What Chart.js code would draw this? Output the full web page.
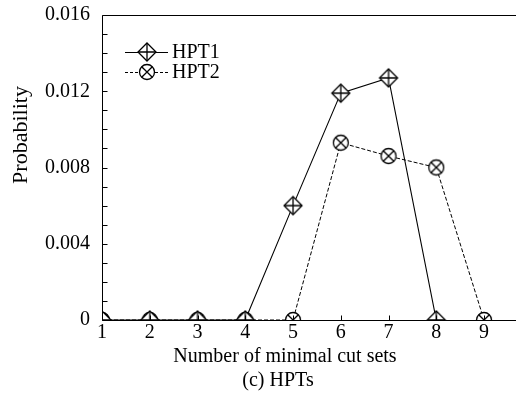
<!DOCTYPE html>
<html>
<head>
<meta charset="utf-8">
<script src="https://cdn.jsdelivr.net/npm/chart.js@4/dist/chart.umd.min.js"></script>
<style>
html,body{margin:0;padding:0;background:#fff;overflow:hidden;}
#wrap{width:518px;height:394px;position:relative;}
</style>
</head>
<body>
<div id="wrap"><canvas id="c"></canvas></div>
<script>
// ---- data ----
const categories = [1, 2, 3, 4, 5, 6, 7, 8, 9];
const hpt1 = [0, 0, 0, 0, 0.0060, 0.0119, 0.0127, 0, null];
const hpt2 = [0, 0, 0, 0, 0, 0.0093, 0.0086, 0.0080, 0];
const seriesNames = ['HPT1', 'HPT2'];
const yTickLabels = [0, 0.004, 0.008, 0.012, 0.016];
const xTickLabels = [1, 2, 3, 4, 5, 6, 7, 8, 9];
const xTitle = 'Number of minimal cut sets';
const caption = '(c) HPTs';
const yTitle = 'Probability';

const SERIF = '"Liberation Serif", "Times New Roman", serif';

function makeDiamond() {
  const c = document.createElement('canvas');
  c.width = 22; c.height = 22;
  const g = c.getContext('2d');
  const cx = 11, cy = 11, r = 9;
  g.lineWidth = 1.3; g.strokeStyle = '#000'; g.fillStyle = '#fff';
  g.beginPath();
  g.moveTo(cx, cy - r); g.lineTo(cx + r, cy); g.lineTo(cx, cy + r); g.lineTo(cx - r, cy); g.closePath();
  g.fill(); g.stroke();
  g.beginPath();
  g.moveTo(cx, cy - r); g.lineTo(cx, cy + r);
  g.moveTo(cx - r, cy); g.lineTo(cx + r, cy);
  g.stroke();
  return c;
}
function makeCircleX() {
  const c = document.createElement('canvas');
  c.width = 20; c.height = 20;
  const g = c.getContext('2d');
  const cx = 10, cy = 10, r = 7.5;
  g.lineWidth = 1.3; g.strokeStyle = '#000'; g.fillStyle = '#fff';
  g.beginPath(); g.arc(cx, cy, r, 0, Math.PI * 2); g.fill(); g.stroke();
  const d = r * Math.SQRT1_2;
  g.beginPath();
  g.moveTo(cx - d, cy - d); g.lineTo(cx + d, cy + d);
  g.moveTo(cx + d, cy - d); g.lineTo(cx - d, cy + d);
  g.stroke();
  return c;
}
const diamond = makeDiamond();
const circleX = makeCircleX();

const clipper = {
  id: 'clipper',
  beforeDatasetsDraw(chart) {
    const a = chart.chartArea, ctx = chart.ctx;
    ctx.save();
    ctx.beginPath();
    ctx.rect(a.left, a.top, a.right - a.left, a.bottom - a.top);
    ctx.clip();
  },
  afterDatasetsDraw(chart) { chart.ctx.restore(); }
};

const frame = {
  id: 'frame',
  afterDraw(chart) {
    const ctx = chart.ctx;
    const a = chart.chartArea;
    const xs = chart.scales.x, ys = chart.scales.y;
    ctx.save();
    ctx.strokeStyle = '#000';
    ctx.lineWidth = 1;
    const L = Math.round(a.left) + 0.5, T = Math.round(a.top) + 0.5, B = Math.round(a.bottom) + 0.5, R = chart.width;
    ctx.beginPath();
    ctx.moveTo(L, T); ctx.lineTo(R, T);
    ctx.moveTo(L, T); ctx.lineTo(L, B);
    ctx.moveTo(L, B); ctx.lineTo(R, B);
    for (let i = 0; i <= 16; i++) {
      const y = Math.round(ys.getPixelForValue(i * 0.001)) + 0.5;
      ctx.moveTo(L, y); ctx.lineTo(L + 5, y);
    }
    xTickLabels.forEach(v => {
      const x = Math.round(xs.getPixelForValue(v)) + 0.5;
      ctx.moveTo(x, B); ctx.lineTo(x, B - 5);
    });
    ctx.stroke();

    ctx.fillStyle = '#000';
    ctx.textAlign = 'center';
    ctx.textBaseline = 'middle';
    ctx.font = '20px ' + SERIF;
    ctx.fillText(xTitle, 285, 357);
    ctx.fillText(caption, 278, 381);
    ctx.save();
    ctx.translate(21, 135);
    ctx.rotate(-Math.PI / 2);
    ctx.font = '22px ' + SERIF;
    ctx.fillText(yTitle, 0, 0);
    ctx.restore();

    const rows = [
      { y: 52, dash: [], img: diamond, name: seriesNames[0] },
      { y: 72, dash: [3, 2], img: circleX, name: seriesNames[1] }
    ];
    ctx.font = '20px ' + SERIF;
    ctx.textAlign = 'left';
    rows.forEach(r => {
      ctx.setLineDash(r.dash);
      ctx.beginPath();
      ctx.moveTo(125, r.y + 0.5); ctx.lineTo(168, r.y + 0.5);
      ctx.stroke();
      ctx.setLineDash([]);
      ctx.drawImage(r.img, 147 - r.img.width / 2, r.y - r.img.height / 2);
      ctx.fillText(r.name, 172, r.y + 1);
    });
    ctx.restore();
  }
};

new Chart(document.getElementById('c'), {
  type: 'line',
  data: {
    datasets: [
      {
        label: seriesNames[0],
        data: categories.map((c, i) => ({ x: c, y: hpt1[i] })),
        borderColor: '#000', borderWidth: 1.1,
        pointStyle: diamond, pointRadius: 9, pointHoverRadius: 9,
        spanGaps: false, clip: false, tension: 0
      },
      {
        label: seriesNames[1],
        data: categories.map((c, i) => ({ x: c, y: hpt2[i] })),
        borderColor: '#000', borderWidth: 1, borderDash: [4, 2],
        pointStyle: circleX, pointRadius: 8, pointHoverRadius: 8,
        clip: false, tension: 0
      }
    ]
  },
  options: {
    responsive: true,
    maintainAspectRatio: false,
    animation: false,
    events: [],
    layout: { padding: { left: 0, right: 0, top: 15, bottom: 0 } },
    plugins: { legend: { display: false }, tooltip: { enabled: false } },
    scales: {
      x: {
        type: 'linear', min: 1, max: 9.5,
        grid: { display: false, drawTicks: false },
        border: { display: false },
        afterBuildTicks: s => { s.ticks = xTickLabels.map(v => ({ value: v })); },
        afterFit: s => { s.height = 74; s.paddingLeft = 0; s.paddingRight = 0; },
        ticks: { color: '#000', font: { family: SERIF, size: 20 }, padding: 1, maxRotation: 0,
                 callback: v => String(v) }
      },
      y: {
        min: 0, max: 0.016,
        grid: { display: false, drawTicks: false },
        border: { display: false },
        afterBuildTicks: s => { s.ticks = yTickLabels.map(v => ({ value: v })); },
        afterFit: s => { s.width = 102; s.paddingTop = 0; s.paddingBottom = 0; },
        ticks: { color: '#000', font: { family: SERIF, size: 20 }, padding: 12,
                 callback: v => (v === 0 ? '0' : v.toFixed(3)) }
      }
    }
  },
  plugins: [clipper, frame]
});
</script>
</body>
</html>
